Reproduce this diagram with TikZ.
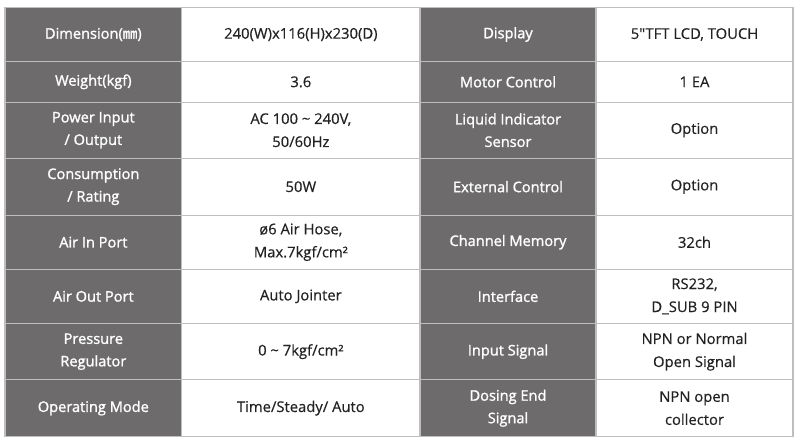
\documentclass[tikz,border=0pt]{standalone}
\usepackage{fontspec}
\setmainfont{Open Sans}
\newfontfamily\keyfont[FakeBold=1.4]{Open Sans}
\newfontfamily\valfont[FakeBold=0.4]{Open Sans}
\newfontfamily\cjk[FakeBold=1.4]{Noto Sans CJK KR}
\definecolor{keygray}{HTML}{6D6B6B}
\definecolor{rulegray}{HTML}{BEBEBE}
\definecolor{valtext}{HTML}{222222}
\begin{document}
\begin{tikzpicture}[x=1pt,y=-1pt,
    cell/.style={draw=rulegray,line width=1.3pt,inner sep=0pt,align=center},
    key/.style={cell,fill=keygray,text=white,font=\keyfont\fontsize{14.6}{22.5}\selectfont},
    val/.style={cell,fill=white,text=valtext,font=\valfont\fontsize{14.8}{23}\selectfont}]
  \useasboundingbox (0,0) rectangle (800,441);
  \foreach \ya/\yb/\ka/\va/\kb/\vb [count=\r] in {
      6/60/{Dimension({\cjk ㎜})}/{240(W)x116(H)x230(D)}/Display/{5"TFT LCD, TOUCH},
      60/100.7/{Weight(kgf)}/{3.6}/{Motor Control}/{1 EA},
      100.7/156.7/{Power Input\\/ Output}/{AC 100 \textasciitilde{} 240V,\\50/60Hz}/{Liquid Indicator\\Sensor}/Option,
      156.7/213.7/{Consumption\\/ Rating}/{50W}/{External Control}/Option,
      213.7/267.7/{Air In Port}/{ø6 Air Hose,\\Max.7kgf/cm²}/{Channel Memory}/{32ch},
      267.7/322/{Air Out Port}/{Auto Jointer}/Interface/{RS232,\\D\_SUB 9 PIN},
      322/378.3/{Pressure\\Regulator}/{0 \textasciitilde{} 7kgf/cm²}/{Input Signal}/{NPN or Normal\\Open Signal},
      378.3/435/{Operating Mode}/{Time/Steady/ Auto}/{Dosing End\\Signal}/{NPN open\\collector}}{
    \begin{scope}[every node/.append style={minimum height={(\yb-\ya)*1pt}}]
      \node[key,minimum width=176.7pt] (ka\r) at (93.35,{(\ya+\yb)/2+1.5}) {\ka};
      \node[val,minimum width=238.3pt] (va\r) at (300.85,{(\ya+\yb)/2+1.5}) {\va};
      \node[key,minimum width=176pt] (kb\r) at (508,{(\ya+\yb)/2+1.5}) {\kb};
      \node[val,minimum width=197pt] (vb\r) at (694.5,{(\ya+\yb)/2+1.5}) {\vb};
    \end{scope}
  }
\end{tikzpicture}
\end{document}
